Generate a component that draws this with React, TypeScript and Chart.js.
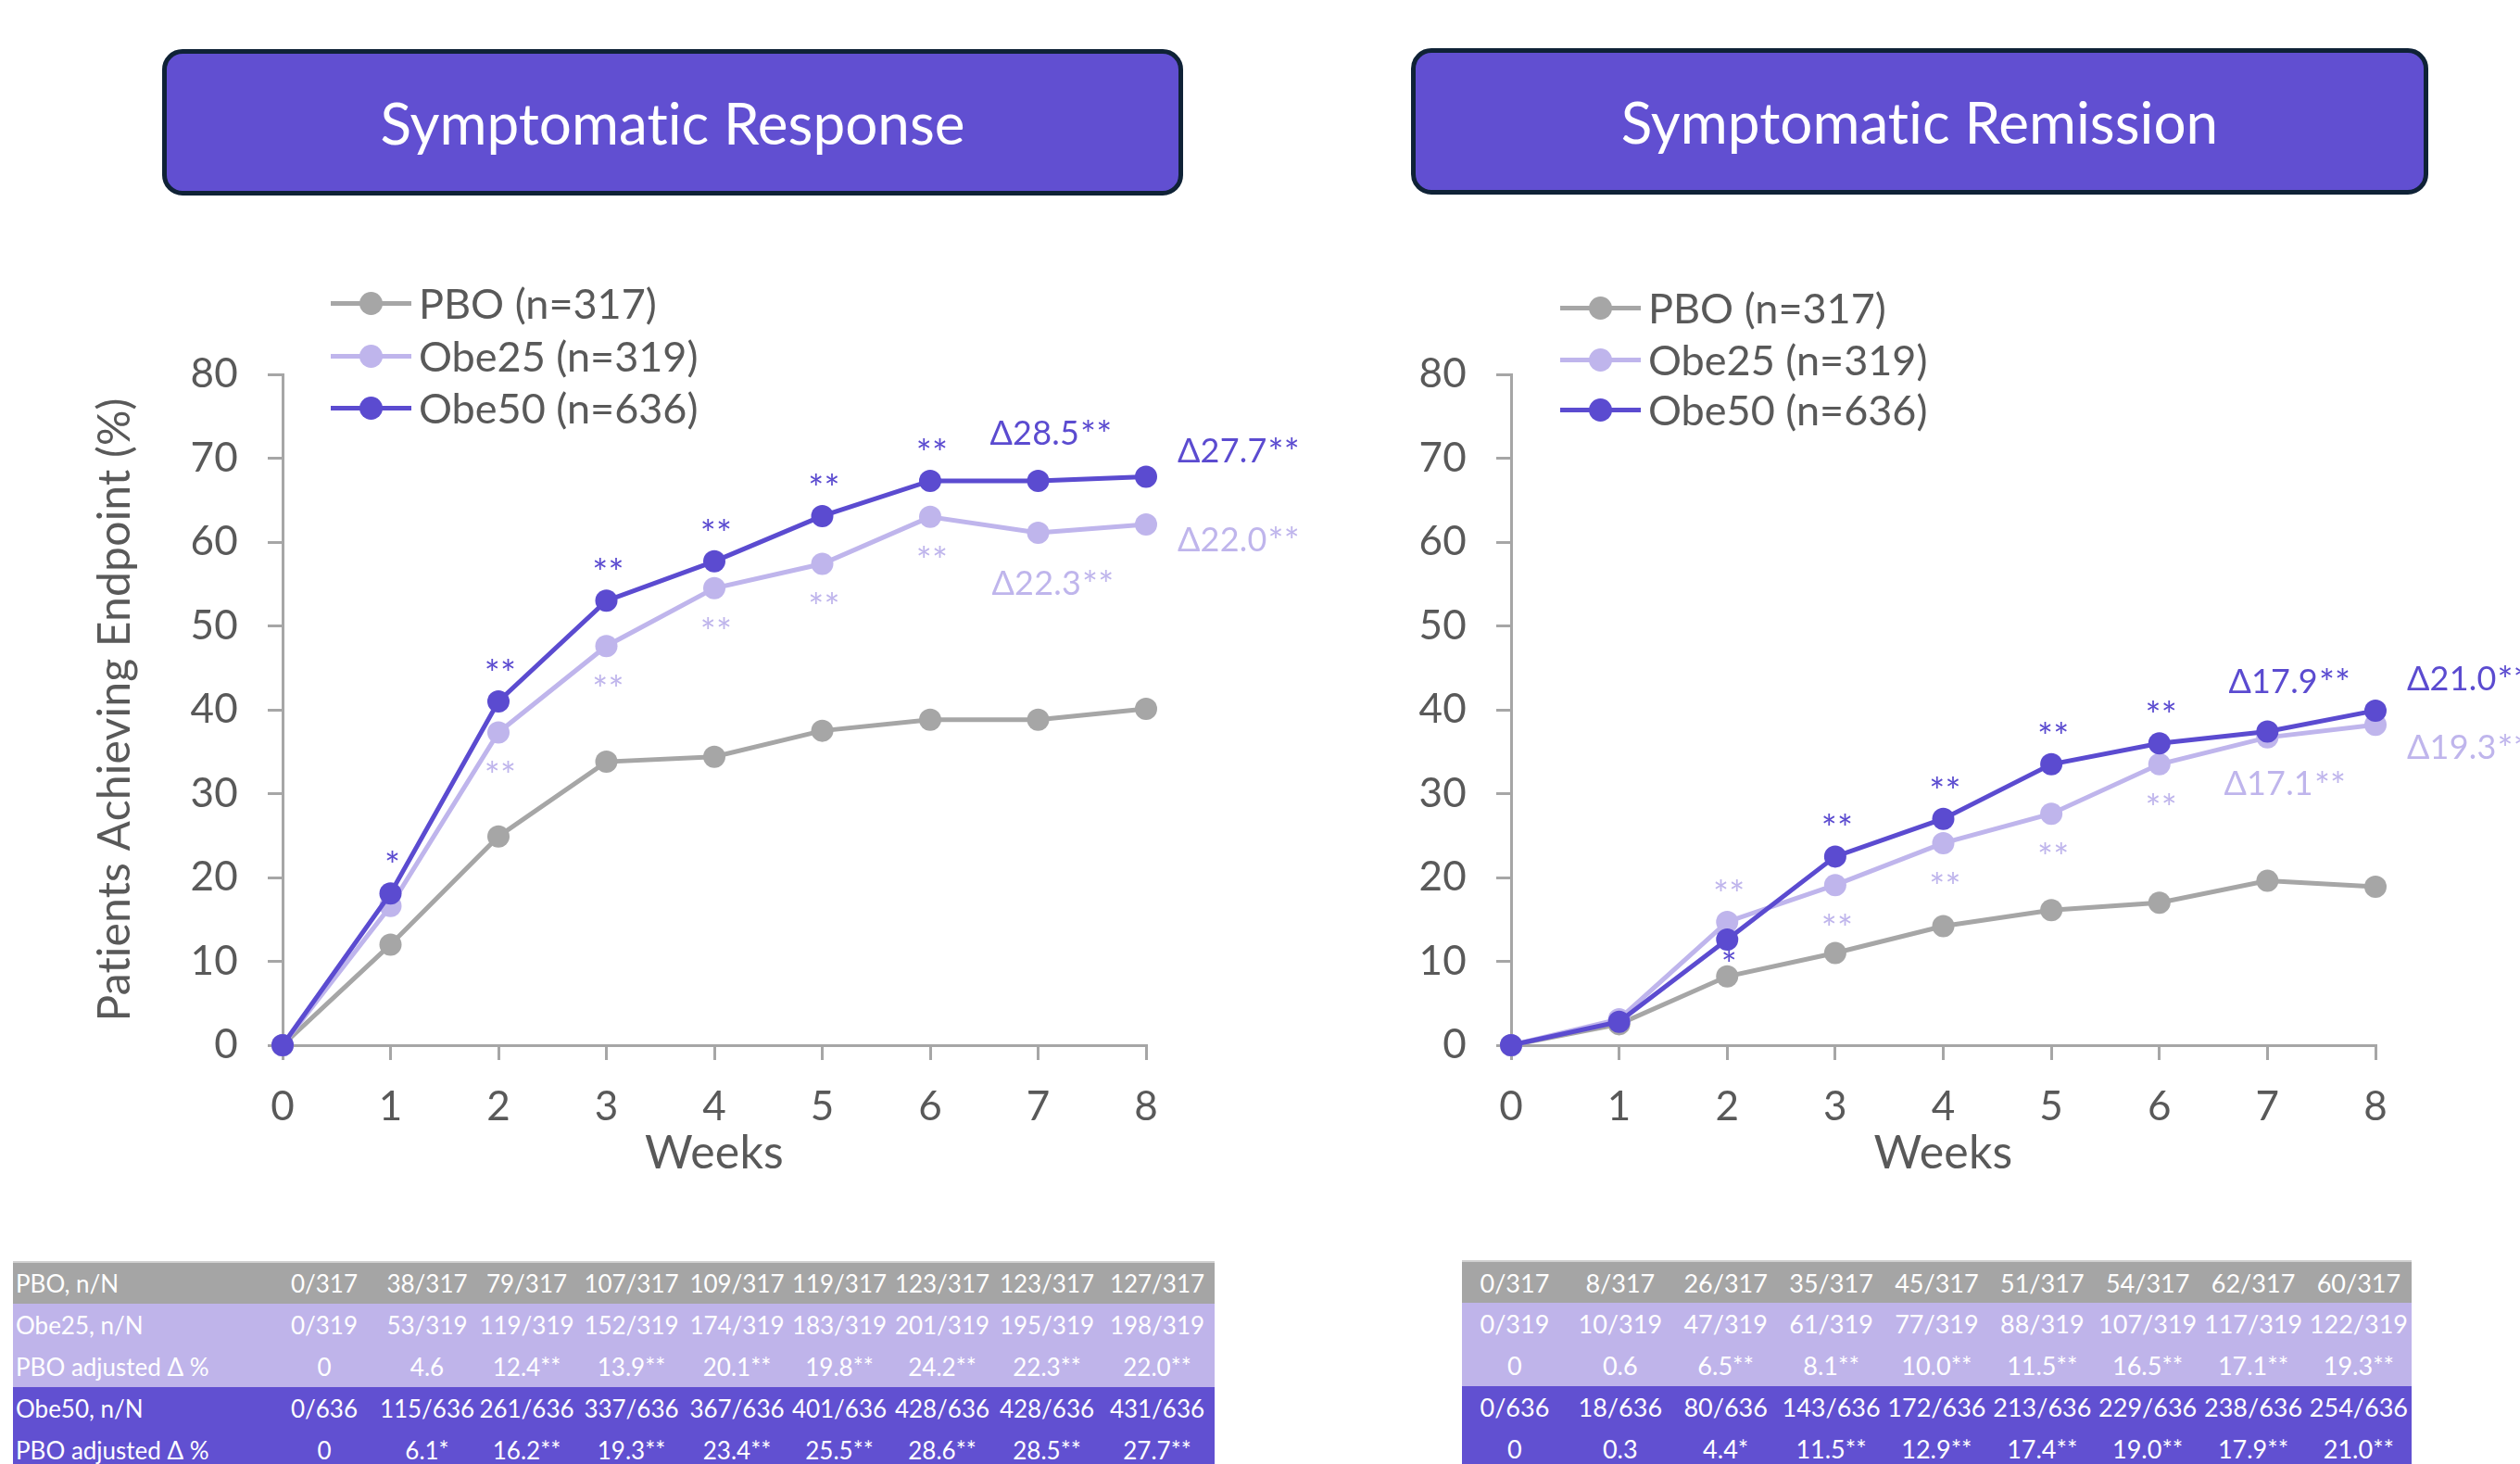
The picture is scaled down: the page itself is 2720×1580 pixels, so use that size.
import React, { useEffect, useRef } from 'react';
import { Chart, registerables } from 'chart.js';

Chart.register(...registerables);

// ---------------- DATA ----------------
const weeks = ['0', '1', '2', '3', '4', '5', '6', '7', '8'];
const seriesNames = ['PBO (n=317)', 'Obe25 (n=319)', 'Obe50 (n=636)'];
const yMin = 0;
const yMax = 80;
const yStep = 10;

const responsePBO = [0, 12.0, 24.9, 33.8, 34.4, 37.5, 38.8, 38.8, 40.1];
const responseObe25 = [0, 16.6, 37.3, 47.6, 54.5, 57.4, 63.0, 61.1, 62.1];
const responseObe50 = [0, 18.1, 41.0, 53.0, 57.7, 63.1, 67.3, 67.3, 67.8];

const remissionPBO = [0, 2.5, 8.2, 11.0, 14.2, 16.1, 17.0, 19.6, 18.9];
const remissionObe25 = [0, 3.1, 14.7, 19.1, 24.1, 27.6, 33.5, 36.7, 38.2];
const remissionObe50 = [0, 2.8, 12.6, 22.5, 27.0, 33.5, 36.0, 37.4, 39.9];

const responseObe50Stars = ['', '*', '**', '**', '**', '**', '**', '', ''];
const responseObe25Stars = ['', '', '**', '**', '**', '**', '**', '', ''];
const remissionObe50Stars = ['', '', '*', '**', '**', '**', '**', '', ''];
const remissionObe25Stars = ['', '', '**', '**', '**', '**', '**', '', ''];

// [week7 Obe50, week8 Obe50, week7 Obe25, week8 Obe25]
const responseDeltas = ['Δ28.5**', 'Δ27.7**', 'Δ22.3**', 'Δ22.0**'];
const remissionDeltas = ['Δ17.9**', 'Δ21.0**', 'Δ17.1**', 'Δ19.3**'];

const tableRowLabels = ['PBO, n/N', 'Obe25, n/N', 'PBO adjusted Δ %', 'Obe50, n/N', 'PBO adjusted Δ %'];

const responsePBOCounts = ['0/317', '38/317', '79/317', '107/317', '109/317', '119/317', '123/317', '123/317', '127/317'];
const responseObe25Counts = ['0/319', '53/319', '119/319', '152/319', '174/319', '183/319', '201/319', '195/319', '198/319'];
const responseObe25Adj = ['0', '4.6', '12.4**', '13.9**', '20.1**', '19.8**', '24.2**', '22.3**', '22.0**'];
const responseObe50Counts = ['0/636', '115/636', '261/636', '337/636', '367/636', '401/636', '428/636', '428/636', '431/636'];
const responseObe50Adj = ['0', '6.1*', '16.2**', '19.3**', '23.4**', '25.5**', '28.6**', '28.5**', '27.7**'];

const remissionPBOCounts = ['0/317', '8/317', '26/317', '35/317', '45/317', '51/317', '54/317', '62/317', '60/317'];
const remissionObe25Counts = ['0/319', '10/319', '47/319', '61/319', '77/319', '88/319', '107/319', '117/319', '122/319'];
const remissionObe25Adj = ['0', '0.6', '6.5**', '8.1**', '10.0**', '11.5**', '16.5**', '17.1**', '19.3**'];
const remissionObe50Counts = ['0/636', '18/636', '80/636', '143/636', '172/636', '213/636', '229/636', '238/636', '254/636'];
const remissionObe50Adj = ['0', '0.3', '4.4*', '11.5**', '12.9**', '17.4**', '19.0**', '17.9**', '21.0**'];

// ---------------- STYLE ----------------
const C = {
  pbo: '#a6a6a6',
  obe25: '#bfb5ec',
  obe50: '#5b4bd0',
  title: '#614fd1',
  titleBorder: '#0f2236',
  text: '#595959',
  axis: '#a6a6a6',
  rowGray: '#a5a5a5',
  rowLight: '#bfb4ea',
  rowDark: '#6150d1',
};
const FONT = 'Lato, "Open Sans", sans-serif';

type Place = 'above' | 'below' | 'belowNear' | '';
const starDy: Record<string, number> = { above: -28, below: 49, belowNear: 29 };

const responseObe50Place: Place[] = ['', 'above', 'above', 'above', 'above', 'above', 'above', '', ''];
const responseObe25Place: Place[] = ['', '', 'below', 'below', 'below', 'below', 'below', '', ''];
const remissionObe50Place: Place[] = ['', '', 'belowNear', 'above', 'above', 'above', 'above', '', ''];
const remissionObe25Place: Place[] = ['', '', 'above', 'below', 'below', 'below', 'below', '', ''];

// delta label offsets from data point: text left edge dx, visual center dy
const responseDeltaOffsets = [
  { dx: -52, dy: -51 },
  { dx: 34, dy: -27 },
  { dx: -50, dy: 55 },
  { dx: 34, dy: 17 },
];
const remissionDeltaOffsets = [
  { dx: -42, dy: -53 },
  { dx: 34, dy: -34 },
  { dx: -47, dy: 51 },
  { dx: 34, dy: 25 },
];

function drawLabel(ctx: any, text: string, x: number, y: number) {
  // main part in regular size, trailing asterisks slightly larger like the source
  const m = text.match(/^(.*?)(\**)$/);
  const head = m ? m[1] : text;
  const tail = m ? m[2] : '';
  ctx.font = `36px ${FONT}`;
  ctx.fillText(head, x, y);
  const w = ctx.measureText(head).width;
  if (tail) {
    ctx.font = `40px ${FONT}`;
    ctx.fillText(tail, x + w + 1, y + 3);
  }
}

function makeAnnotPlugin(cfg: any) {
  return {
    id: 'annot',
    beforeDraw(chart: any) {
      try { chart.ctx.letterSpacing = '0.2px'; } catch (e) { /* ignore */ }
    },
    afterDatasetsDraw(chart: any) {
      const { ctx } = chart;
      const xs = chart.scales.x;
      const ys = chart.scales.y;
      ctx.save();
      ctx.textBaseline = 'middle';
      ctx.font = `40px ${FONT}`;
      ctx.textAlign = 'center';
      for (const s of cfg.stars) {
        s.labels.forEach((t: string, i: number) => {
          if (!t || !s.places[i]) return;
          const x = xs.getPixelForValue(i);
          const y = ys.getPixelForValue(s.data[i]);
          ctx.fillStyle = s.color;
          ctx.fillText(t, x + 2, y + starDy[s.places[i]]);
        });
      }
      ctx.textAlign = 'left';
      for (const d of cfg.deltas) {
        const x = xs.getPixelForValue(d.index);
        const y = ys.getPixelForValue(d.data[d.index]);
        ctx.fillStyle = d.color;
        drawLabel(ctx, d.text, x + d.dx, y + d.dy);
      }
      ctx.restore();
    },
  };
}

function LineChart(props: any) {
  const ref = useRef<HTMLCanvasElement | null>(null);
  const { left, top, width, height, yWidth, padRight, padTop, xHeight, yTitle, pbo, obe25, obe50, annot } = props;
  useEffect(() => {
    const gridOpt = {
      drawOnChartArea: false,
      drawTicks: true,
      tickLength: 16,
      color: C.axis,
      lineWidth: 3,
    };
    const mk = (label: string, data: number[], color: string, order: number) => ({
      label,
      data,
      borderColor: color,
      backgroundColor: color,
      pointBackgroundColor: color,
      pointBorderColor: color,
      pointBorderWidth: 0,
      pointRadius: 12,
      borderWidth: 5,
      tension: 0,
      order,
      clip: false,
    });
    const chart = new Chart(ref.current as HTMLCanvasElement, {
      type: 'line',
      data: {
        labels: weeks,
        datasets: [
          mk(seriesNames[2], obe50, C.obe50, 1),
          mk(seriesNames[1], obe25, C.obe25, 2),
          mk(seriesNames[0], pbo, C.pbo, 3),
        ],
      },
      options: {
        animation: false,
        responsive: false,
        devicePixelRatio: 1,
        events: [],
        layout: { padding: { left: 0, right: padRight, top: padTop, bottom: 0 } },
        plugins: { legend: { display: false }, tooltip: { enabled: false } },
        scales: {
          x: {
            type: 'category',
            offset: false,
            grid: gridOpt,
            border: { display: true, color: C.axis, width: 3 },
            ticks: { font: { size: 44, family: FONT }, color: C.text, padding: 24, maxRotation: 0, autoSkip: false },
            title: { display: true, text: 'Weeks', font: { size: 50, family: FONT }, color: C.text, padding: { top: 0, bottom: 5 } },
            afterFit: (s: any) => { s.height = xHeight; },
          },
          y: {
            min: yMin,
            max: yMax,
            grid: gridOpt,
            border: { display: true, color: C.axis, width: 3 },
            ticks: { stepSize: yStep, font: { size: 44, family: FONT }, color: C.text, padding: 32 },
            title: { display: !!yTitle, text: yTitle || '', font: { size: 48, family: FONT }, color: C.text, padding: { top: 96, bottom: 0 } },
            afterFit: (s: any) => { s.width = yWidth; },
          },
        },
      },
      plugins: [makeAnnotPlugin(annot)],
    } as any);
    return () => chart.destroy();
  }, []);
  return (
    <canvas
      ref={ref}
      width={width}
      height={height}
      style={{ position: 'absolute', left, top, width, height }}
    />
  );
}

function TitleBox({ left, top, width, height, text }: any) {
  return (
    <div
      style={{
        position: 'absolute', left, top, width, height, boxSizing: 'border-box',
        background: C.title, border: `5px solid ${C.titleBorder}`, borderRadius: 22,
        display: 'flex', alignItems: 'center', justifyContent: 'center',
        color: '#ffffff', fontFamily: FONT, fontSize: 62, lineHeight: 1,
        fontVariantLigatures: 'none', fontFeatureSettings: '"liga" 0, "clig" 0',
      }}
    >
      {text}
    </div>
  );
}

function Legend({ lineLeft, rows }: any) {
  const colors = [C.pbo, C.obe25, C.obe50];
  return (
    <>
      {seriesNames.map((name, i) => (
        <div key={i} style={{ position: 'absolute', left: lineLeft, top: rows[i] - 26, height: 52 }}>
          <div style={{ position: 'absolute', left: 0, top: 24, width: 87, height: 5, background: colors[i] }} />
          <div style={{ position: 'absolute', left: 31, top: 14, width: 25, height: 25, borderRadius: '50%', background: colors[i] }} />
          <div style={{ position: 'absolute', left: 95, top: 0, whiteSpace: 'nowrap', fontFamily: FONT, fontSize: 45, lineHeight: '52px', color: C.text }}>
            {name}
          </div>
        </div>
      ))}
    </>
  );
}

function DataTable({ left, top, colWidths, showLabels, rows, fontSize }: any) {
  const bgs = [C.rowGray, C.rowLight, C.rowLight, C.rowDark, C.rowDark];
  return (
    <table
      style={{
        position: 'absolute', left, top, borderCollapse: 'collapse', tableLayout: 'fixed',
        fontFamily: FONT, fontSize, color: '#ffffff', borderTop: '2px solid #d0d0d0',
      }}
    >
      <colgroup>
        {colWidths.map((w: number, i: number) => <col key={i} style={{ width: w }} />)}
      </colgroup>
      <tbody>
        {rows.map((r: string[], ri: number) => (
          <tr key={ri} style={{ height: 45, background: bgs[ri] }}>
            {showLabels && (
              <td style={{ padding: '0 0 0 3px', textAlign: 'left', whiteSpace: 'nowrap' }}>{tableRowLabels[ri]}</td>
            )}
            {r.map((v, ci) => (
              <td key={ci} style={{ padding: 0, textAlign: 'center', whiteSpace: 'nowrap' }}>{v}</td>
            ))}
          </tr>
        ))}
      </tbody>
    </table>
  );
}

export default function App() {
  useEffect(() => {
    document.body.style.margin = '0';
    document.body.style.overflow = 'hidden';
  }, []);
  const responseAnnot = {
    stars: [
      { labels: responseObe50Stars, places: responseObe50Place, data: responseObe50, color: C.obe50 },
      { labels: responseObe25Stars, places: responseObe25Place, data: responseObe25, color: C.obe25 },
    ],
    deltas: [
      { text: responseDeltas[0], index: 7, data: responseObe50, color: C.obe50, ...responseDeltaOffsets[0] },
      { text: responseDeltas[1], index: 8, data: responseObe50, color: C.obe50, ...responseDeltaOffsets[1] },
      { text: responseDeltas[2], index: 7, data: responseObe25, color: C.obe25, ...responseDeltaOffsets[2] },
      { text: responseDeltas[3], index: 8, data: responseObe25, color: C.obe25, ...responseDeltaOffsets[3] },
    ],
  };
  const remissionAnnot = {
    stars: [
      { labels: remissionObe50Stars, places: remissionObe50Place, data: remissionObe50, color: C.obe50 },
      { labels: remissionObe25Stars, places: remissionObe25Place, data: remissionObe25, color: C.obe25 },
    ],
    deltas: [
      { text: remissionDeltas[0], index: 7, data: remissionObe50, color: C.obe50, ...remissionDeltaOffsets[0] },
      { text: remissionDeltas[1], index: 8, data: remissionObe50, color: C.obe50, ...remissionDeltaOffsets[1] },
      { text: remissionDeltas[2], index: 7, data: remissionObe25, color: C.obe25, ...remissionDeltaOffsets[2] },
      { text: remissionDeltas[3], index: 8, data: remissionObe25, color: C.obe25, ...remissionDeltaOffsets[3] },
    ],
  };
  const leftCols = [278, 116, 106, 109, 117, 111, 110, 112, 114, 124];
  const rightCols = Array(9).fill(1025 / 9);
  return (
    <div style={{ position: 'absolute', left: 0, top: 0, width: 2720, height: 1580, overflow: 'hidden', background: '#ffffff' }}>
      <TitleBox left={175} top={53} width={1102} height={158} text="Symptomatic Response" />
      <TitleBox left={1523} top={52} width={1098} height={158} text="Symptomatic Remission" />

      <LineChart
        left={0} top={280} width={1420} height={1000}
        yWidth={305} padRight={183} padTop={124} xHeight={152}
        yTitle="Patients Achieving Endpoint (%)"
        pbo={responsePBO} obe25={responseObe25} obe50={responseObe50}
        annot={responseAnnot}
      />
      <LineChart
        left={1440} top={280} width={1280} height={1000}
        yWidth={191} padRight={156} padTop={124} xHeight={152}
        yTitle=""
        pbo={remissionPBO} obe25={remissionObe25} obe50={remissionObe50}
        annot={remissionAnnot}
      />

      <Legend lineLeft={357} rows={[327, 384, 440]} />
      <Legend lineLeft={1684} rows={[332, 388, 442]} />

      <DataTable
        left={14} top={1361} colWidths={leftCols} showLabels fontSize={26}
        rows={[responsePBOCounts, responseObe25Counts, responseObe25Adj, responseObe50Counts, responseObe50Adj]}
      />
      <DataTable
        left={1578} top={1360} colWidths={rightCols} showLabels={false} fontSize={27}
        rows={[remissionPBOCounts, remissionObe25Counts, remissionObe25Adj, remissionObe50Counts, remissionObe50Adj]}
      />
    </div>
  );
}
